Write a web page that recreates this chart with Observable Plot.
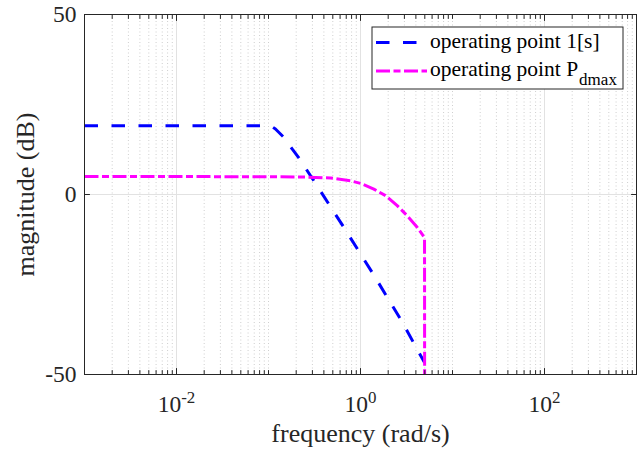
<!DOCTYPE html>
<html>
<head>
<meta charset="utf-8">
<script src="https://cdn.jsdelivr.net/npm/d3@7"></script>
<script src="https://cdn.jsdelivr.net/npm/@observablehq/plot@0.6"></script>
<style>
  html, body { margin: 0; padding: 0; background: #fff; }
  #chart { width: 643px; height: 452px; }
</style>
</head>
<body>
<div id="chart"></div>
<script>
// ---- data (frequency in rad/s, magnitude in dB) ----
const freqBlue = [0.001, 0.1, 0.107, 0.119, 0.1466, 0.1807, 0.2173, 0.3184, 0.6577, 1.374, 2.793, 4.966];
const magBlue  = [19.1, 19.1, 19.0, 18.2, 15.9, 12.65, 9.9, 3.4, -9.1, -22.1, -35.1, -46.7];

const freqMag = [0.001, 0.1, 0.251, 0.472, 0.778, 1, 1.396, 1.871, 2.506, 3.221, 4.13, 4.966, 4.98];
const magMag  = [5.0, 4.95, 4.85, 4.6, 3.8, 3.1, 1.5, -0.3, -3.1, -5.9, -9.1, -12.0, -60];

const seriesNames = ["operating point 1[s]", "operating point P"];
const seriesSub = ["", "dmax"];
const seriesColors = ["#0000ff", "#ff00ff"];
const seriesDash = ["13.5,13.5", "14,3.5,7,3.5"];

const xMajorTicks = [1e-2, 1e0, 1e2];
const yTicks = [-50, 0, 50];
const xDomain = [1e-3, 1e3];
const yDomain = [-50, 50];

// minor tick positions (2..9 x decade, plus odd decades)
const xMinorTicks = [];
for (let k = -3; k <= 3; k++) {
  for (let m = 1; m <= 9; m++) {
    const v = m * Math.pow(10, k);
    if (v >= xDomain[0] * 0.999 && v <= xDomain[1] * 1.001 && !xMajorTicks.some(t => Math.abs(t - v) / v < 1e-9)) xMinorTicks.push(v);
  }
}

const blueData = freqBlue.map((f, i) => ({f, m: magBlue[i]}));
const magData = freqMag.map((f, i) => ({f, m: magMag[i]}));

const tickShape = {draw(context, l) { context.moveTo(0, 0); context.lineTo(0, -l); }};
const axisColor = "#262626";

const chart = Plot.plot({
  width: 643,
  height: 452,
  marginLeft: 84,
  marginRight: 7,
  marginTop: 14,
  marginBottom: 78,
  style: {fontFamily: "'Liberation Serif', 'Times New Roman', serif", background: "white", color: axisColor, overflow: "visible"},
  x: {type: "log", domain: xDomain},
  y: {domain: yDomain},
  marks: [
    Plot.ruleX(xMinorTicks, {stroke: "#cfcfcf", strokeDasharray: "1,2.5", strokeWidth: 1}),
    Plot.ruleX(xMajorTicks, {stroke: "#e2e2e2", strokeWidth: 1}),
    Plot.ruleY([0], {stroke: "#e2e2e2", strokeWidth: 1}),
    Plot.line(blueData, {x: "f", y: "m", stroke: seriesColors[0], strokeWidth: 3, strokeDasharray: seriesDash[0], strokeLinecap: "butt", strokeLinejoin: "miter", clip: true}),
    Plot.line(magData, {x: "f", y: "m", stroke: seriesColors[1], strokeWidth: 3, strokeDasharray: seriesDash[1], strokeLinecap: "butt", strokeLinejoin: "miter", clip: true}),
    Plot.frame({stroke: axisColor, strokeWidth: 1}),
    // inward ticks: bottom, top
    Plot.vector(xMinorTicks, {x: d => d, y: yDomain[0], length: 4, rotate: 0, anchor: "start", shape: tickShape, stroke: axisColor, strokeWidth: 1}),
    Plot.vector(xMajorTicks, {x: d => d, y: yDomain[0], length: 6, rotate: 0, anchor: "start", shape: tickShape, stroke: axisColor, strokeWidth: 1}),
    Plot.vector(xMinorTicks, {x: d => d, y: yDomain[1], length: 4, rotate: 180, anchor: "start", shape: tickShape, stroke: axisColor, strokeWidth: 1}),
    Plot.vector(xMajorTicks, {x: d => d, y: yDomain[1], length: 6, rotate: 180, anchor: "start", shape: tickShape, stroke: axisColor, strokeWidth: 1}),
    // inward ticks: left, right
    Plot.vector(yTicks, {x: xDomain[0], y: d => d, length: 5, rotate: 90, anchor: "start", shape: tickShape, stroke: axisColor, strokeWidth: 1}),
    Plot.vector(yTicks, {x: xDomain[1], y: d => d, length: 5, rotate: -90, anchor: "start", shape: tickShape, stroke: axisColor, strokeWidth: 1}),
    Plot.axisX(xMajorTicks, {tickSize: 0, tickPadding: 21, fontSize: 23.5, label: null, tickFormat: d => "10^" + Math.round(Math.log10(d)), fill: axisColor}),
    Plot.axisY(yTicks, {tickSize: 0, tickPadding: 8, fontSize: 23.5, label: null, tickFormat: d => String(d), fill: axisColor}),
    Plot.text(["frequency (rad/s)"], {frameAnchor: "bottom", lineAnchor: "middle", textAnchor: "middle", dy: 58.7, fontSize: 26, fill: axisColor}),
    Plot.text(["magnitude (dB)"], {frameAnchor: "left", lineAnchor: "middle", textAnchor: "middle", rotate: -90, dx: -59.3, fontSize: 26, fill: axisColor})
  ]
});

document.getElementById("chart").appendChild(chart);

// superscript exponents on x tick labels
d3.select(chart).selectAll('g[aria-label="x-axis tick label"] text').each(function() {
  const el = d3.select(this);
  const s = el.text();
  const parts = s.split("^");
  if (parts.length !== 2) return;
  el.text("");
  el.append("tspan").text(parts[0]);
  el.append("tspan").attr("dy", -9.4).attr("font-size", "0.72em").text(parts[1]);
});

// legend (inside the plot area, top-right)
const svg = d3.select(chart);
const lg = svg.append("g").attr("aria-label", "legend")
  .attr("font-family", "'Liberation Serif', 'Times New Roman', serif")
  .attr("font-size", 21.5).attr("fill", "#000").attr("text-anchor", "start");
lg.append("rect").attr("x", 372).attr("y", 27).attr("width", 251).attr("height", 62)
  .attr("fill", "white").attr("stroke", axisColor).attr("stroke-width", 1);
const rowsY = [42.5, 71];
const sampleEnd = [418, 427];
seriesNames.forEach((name, i) => {
  lg.append("line").attr("x1", 376).attr("x2", sampleEnd[i]).attr("y1", rowsY[i]).attr("y2", rowsY[i])
    .attr("stroke", seriesColors[i]).attr("stroke-width", 3).attr("stroke-dasharray", seriesDash[i]);
  const t = lg.append("text").attr("x", 430).attr("y", rowsY[i] + 5).attr("text-anchor", "start").text(name);
  if (seriesSub[i]) {
    t.append("tspan").attr("dy", 8.5).attr("dx", 1).attr("font-size", 17).text(seriesSub[i]);
  }
});
</script>
</body>
</html>
